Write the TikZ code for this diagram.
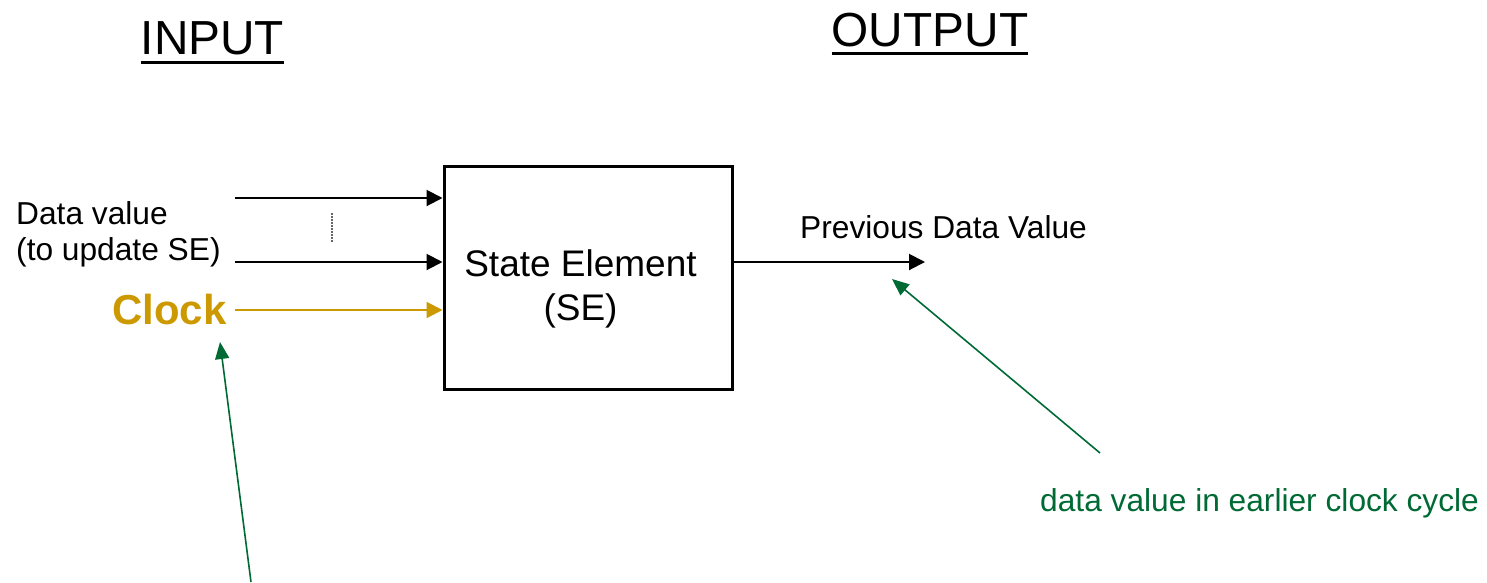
\documentclass[tikz,border=0pt]{standalone}
\usepackage{fontspec}
\setmainfont{Liberation Sans}
\usetikzlibrary{arrows.meta}
\definecolor{clockgold}{RGB}{204,153,0}
\definecolor{notegreen}{RGB}{0,106,52}
\begin{document}
\begin{tikzpicture}[x=1pt,y=-1pt,
  txt/.style={inner sep=0pt,anchor=base west,font=\fontsize{31.7}{38}\selectfont},
  title/.style={inner sep=0pt,anchor=base,font=\fontsize{47.8}{56}\selectfont},
  uline/.style={line width=3pt},
  sig/.style={line width=2pt,-{Triangle[length=16pt,width=16pt]}},
  note/.style={notegreen,line width=1.6pt,-{Triangle[length=17pt,width=14pt]}}]
\useasboundingbox (0,0) rectangle (1487,582);

% titles with underlines
\node[title] (in) at (212.5,54) {INPUT};
\node[title] (out) at (930,46) {OUTPUT};
\draw[uline] ([yshift=-8pt]in.base west) -- ([yshift=-8pt]in.base east);
\draw[uline] ([yshift=-7pt]out.base west) -- ([yshift=-7pt]out.base east);

% the state element
\node[draw,line width=3pt,minimum width=288pt,minimum height=223pt,inner sep=0pt] (se) at (588,277.5) {};
\node[inner sep=0pt,anchor=base,font=\fontsize{37}{46}\selectfont] (sel1) at (580.5,276) {State Element};
\node[inner sep=0pt,anchor=base,font=\fontsize{37}{46}\selectfont] (sel2) at (580.5,320) {(SE)};

% input labels
\node[txt] (dv1) at (16,224) {Data value};
\node[txt] (dv2) at (16,260) {(to update SE)};
\node[inner sep=0pt,anchor=base east,font=\fontsize{41.9}{50}\selectfont\bfseries,text=clockgold] (clk) at (226.5,324) {Clock};

% input signals
\coordinate (d1) at (235,198);
\coordinate (d2) at (235,262);
\coordinate (c1) at (235,310);
\draw[sig] (d1) -- (se.west |- d1);
\draw[sig] (d2) -- (se.west |- d2);
\draw[sig,clockgold] (c1) -- (se.west |- c1);
\coordinate (dt) at (332,213);
\coordinate (db) at (332,243);
\draw[gray!80!black,line width=1.2pt,dash pattern=on 1.5pt off 1.5pt] (dt) -- (db);

% output signal
\coordinate (o1) at (925,262);
\draw[sig] (se.east |- o1) -- (o1);
\node[txt] (prev) at (800,238) {Previous Data Value};

% annotations
\node[txt,text=notegreen] (early) at (1040,511) {data value in earlier clock cycle};
\coordinate (n1s) at (1100,453);
\coordinate (n1e) at (892,279);
\draw[note] (n1s) -- (n1e);
\coordinate (n2s) at (251,582);
\coordinate (n2e) at (220,342);
\draw[note] (n2s) -- (n2e);
\end{tikzpicture}
\end{document}
